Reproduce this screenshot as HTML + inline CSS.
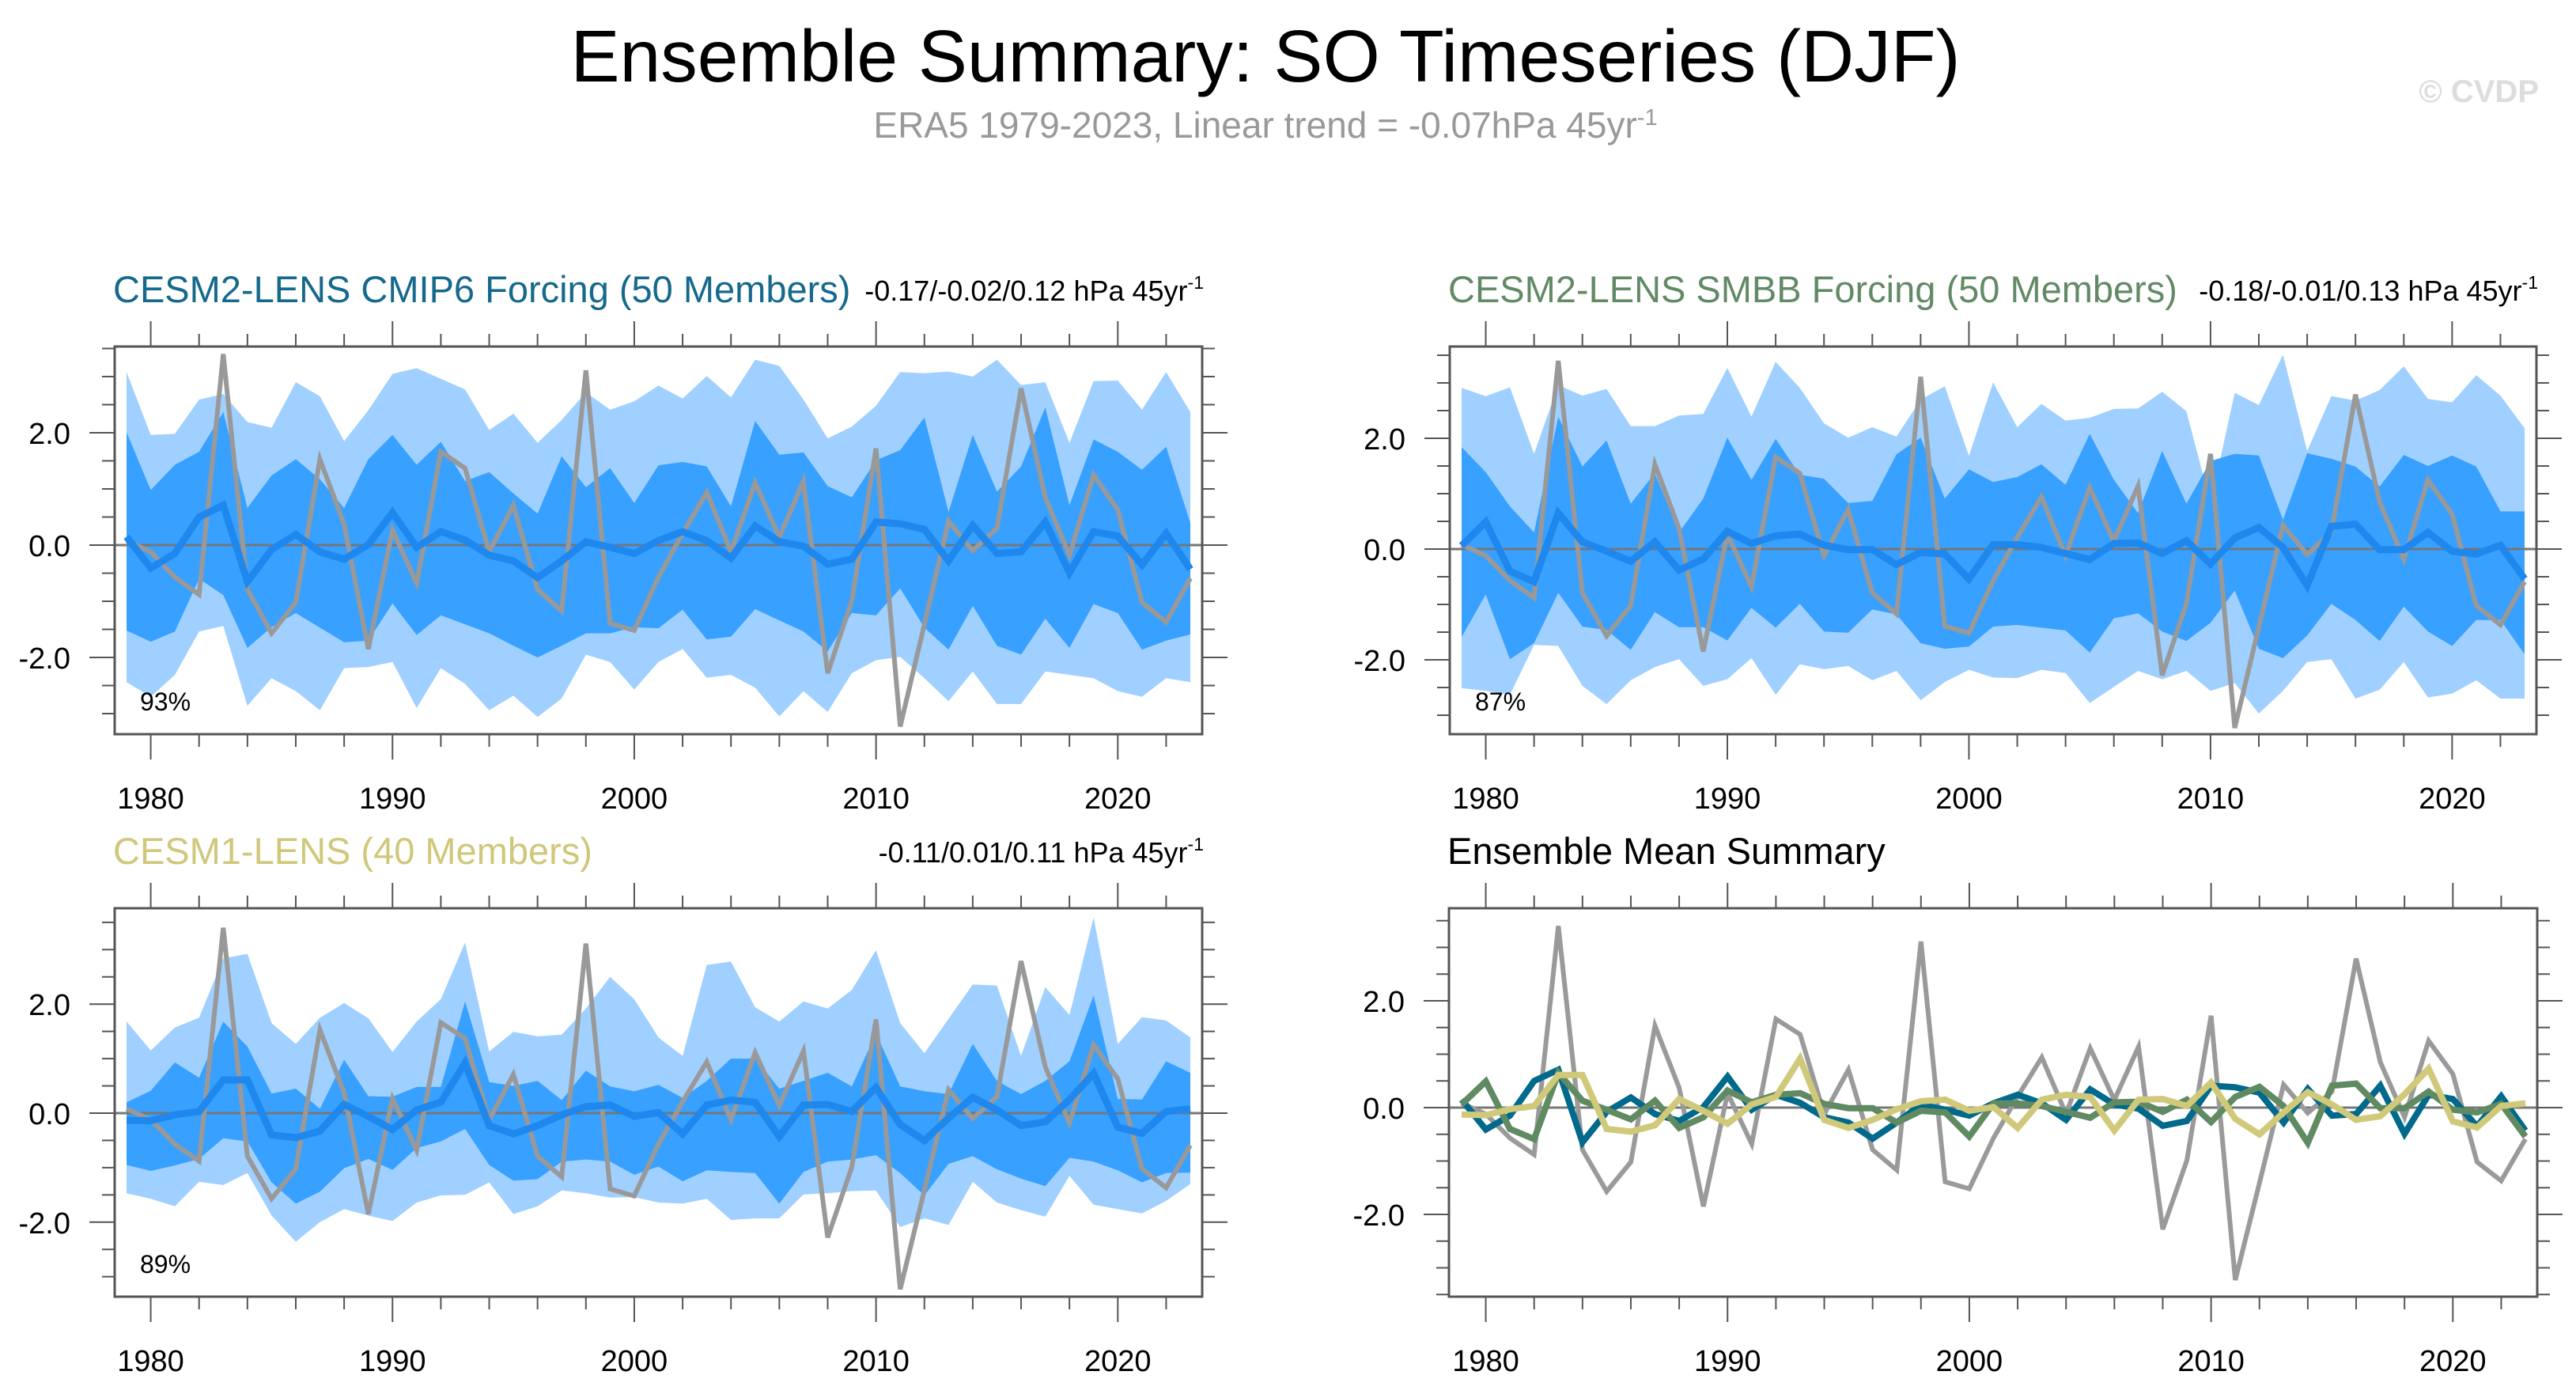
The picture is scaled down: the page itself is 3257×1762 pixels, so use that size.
<!DOCTYPE html>
<html><head><meta charset="utf-8"><style>
html,body{margin:0;padding:0;background:#fff;}
svg{display:block;font-family:"Liberation Sans",sans-serif;}
</style></head><body>
<svg id="chart" width="3257" height="1762" viewBox="0 0 3257 1762" xmlns="http://www.w3.org/2000/svg">
<text x="1600" y="103" font-size="93" text-anchor="middle" fill="#000">Ensemble Summary: SO Timeseries (DJF)</text>
<text x="1600" y="174" font-size="46" text-anchor="middle" fill="#999">ERA5 1979-2023, Linear trend = -0.07hPa 45yr<tspan dy="-16" font-size="29">-1</tspan></text>
<text x="3210" y="129" font-size="40" font-weight="bold" text-anchor="end" fill="#ddd">© CVDP</text>
<g id="plots"></g>
</svg>
<script>
const years = [];
for (let y = 1979; y <= 2023; y++) years.push(y);
const xTickLabels = [1980, 1990, 2000, 2010, 2020];
const yTickLabels = [-2, 0, 2];
const era5 = [0.08,-0.12,-0.57,-0.88,3.4,-0.79,-1.57,-1.02,1.53,0.37,-1.85,0.27,-0.68,1.66,1.37,-0.12,0.71,-0.79,-1.17,3.11,-1.39,-1.52,-0.57,0.21,0.94,-0.12,1.11,0.14,1.14,-2.28,-0.99,1.72,-3.23,-1.41,0.43,-0.10,0.30,2.79,0.85,-0.18,1.25,0.63,-1.02,-1.37,-0.59];
const cmip6Mean = [0.15,-0.41,-0.15,0.5,0.71,-0.65,-0.08,0.19,-0.12,-0.25,0.01,0.58,-0.04,0.24,0.09,-0.18,-0.28,-0.58,-0.28,0.06,-0.04,-0.15,0.08,0.24,0.08,-0.23,0.34,0.06,-0.02,-0.34,-0.25,0.41,0.38,0.28,-0.28,0.35,-0.15,-0.12,0.41,-0.49,0.24,0.16,-0.35,0.21,-0.43];
const cmip6OuterHi = [3.08,1.96,1.98,2.59,2.69,2.19,2.09,2.9,2.65,1.85,2.4,3.05,3.15,2.96,2.77,2.05,2.34,1.82,2.23,2.72,2.41,2.56,2.84,2.61,3.01,2.63,3.3,3.19,2.59,1.9,2.11,2.48,3.08,3.06,3.09,3.0,3.3,2.85,2.9,1.82,2.92,2.93,2.41,3.08,2.37];
const cmip6InnerHi = [2.01,0.98,1.43,1.66,2.37,0.66,1.24,1.53,1.17,0.66,1.53,1.96,1.43,1.84,1.14,1.3,0.92,0.56,1.58,1.03,1.37,0.75,1.42,1.48,1.4,0.69,2.21,1.61,1.65,1.05,0.85,1.51,1.69,2.27,0.59,1.96,0.95,1.4,2.45,0.71,1.88,1.66,1.34,1.75,0.39];
const cmip6InnerLo = [-1.52,-1.72,-1.54,-0.6,-0.89,-1.83,-1.46,-1.21,-1.47,-1.73,-1.7,-1.04,-1.6,-1.25,-1.41,-1.57,-1.79,-2.0,-1.79,-1.57,-1.57,-1.46,-1.48,-1.15,-1.68,-1.63,-1.14,-1.34,-1.54,-1.89,-1.21,-1.25,-0.77,-1.47,-1.86,-1.08,-1.79,-1.95,-1.31,-1.83,-1.05,-1.21,-1.86,-1.7,-1.59];
const cmip6OuterLo = [-2.44,-2.7,-2.31,-1.54,-1.44,-2.86,-2.37,-2.6,-2.94,-2.19,-2.17,-2.08,-2.9,-2.19,-2.47,-2.94,-2.68,-3.06,-2.73,-1.95,-2.08,-2.57,-2.08,-1.85,-2.36,-2.31,-2.54,-3.05,-2.6,-2.97,-2.28,-2.05,-1.99,-2.37,-2.78,-2.25,-2.83,-2.83,-2.25,-2.31,-2.37,-2.6,-2.7,-2.37,-2.44];
const smbbMean = [0.06,0.49,-0.40,-0.59,0.65,0.13,-0.04,-0.22,0.13,-0.38,-0.18,0.32,0.10,0.24,0.27,0.07,-0.01,-0.01,-0.28,-0.06,-0.09,-0.54,0.08,0.08,0.03,-0.08,-0.19,0.10,0.11,-0.08,0.15,-0.27,0.2,0.39,0.03,-0.66,0.41,0.45,-0.01,-0.01,0.30,-0.04,-0.09,0.07,-0.54];
const smbbOuterHi = [2.91,2.76,2.92,1.72,2.96,2.77,2.89,2.22,2.22,2.41,2.44,3.27,2.39,3.38,2.91,2.27,2.01,2.2,2.03,2.7,2.94,1.68,3.01,2.2,2.62,2.32,2.37,2.53,2.54,2.84,2.49,0.82,2.82,2.6,3.51,1.77,2.76,2.68,2.87,3.3,2.71,2.65,3.14,2.77,2.18];
const smbbInnerHi = [1.84,1.39,0.77,0.30,2.39,1.49,1.96,0.82,1.37,0.30,0.91,2.01,1.25,1.99,1.34,1.27,0.83,0.87,1.71,2.01,0.91,1.44,1.21,1.3,1.53,1.16,2.08,1.25,0.65,1.77,0.82,1.59,1.72,1.69,0.53,1.73,1.63,1.49,1.13,1.7,1.5,1.69,1.49,0.68,0.68];
const smbbInnerLo = [-1.59,-0.82,-1.99,-1.70,-0.79,-1.40,-1.46,-1.82,-1.14,-1.41,-1.41,-1.65,-1.06,-1.42,-0.99,-1.49,-1.51,-1.09,-1.18,-1.70,-1.80,-1.76,-1.40,-1.37,-1.42,-1.47,-1.87,-1.25,-1.16,-1.49,-1.66,-1.33,-0.75,-1.80,-1.97,-1.56,-0.99,-1.28,-1.66,-1.04,-1.49,-1.75,-1.28,-1.28,-1.90];
const smbbOuterLo = [-2.51,-2.56,-2.63,-1.73,-1.75,-2.47,-2.80,-2.37,-2.13,-1.99,-2.47,-2.35,-1.97,-2.63,-2.08,-2.17,-2.11,-2.37,-2.20,-2.73,-2.40,-2.18,-2.32,-2.33,-2.18,-2.24,-2.78,-2.49,-2.20,-2.35,-2.20,-2.56,-2.42,-2.97,-2.56,-2.04,-1.99,-2.70,-2.54,-2.04,-2.68,-2.61,-2.37,-2.70,-2.70];
const cesm1Mean = [-0.13,-0.14,-0.03,0.03,0.61,0.61,-0.40,-0.45,-0.33,0.16,-0.06,-0.30,0.06,0.2,0.92,-0.23,-0.38,-0.23,-0.03,0.12,0.15,-0.06,0.01,-0.38,0.15,0.24,0.20,-0.43,0.15,0.16,0.03,0.47,-0.21,-0.50,-0.09,0.29,0.06,-0.23,-0.16,0.25,0.73,-0.26,-0.37,0.03,0.08];
const cesm1OuterHi = [1.68,1.15,1.57,1.75,2.84,2.92,1.65,1.27,1.75,2.02,1.74,1.12,1.68,2.09,3.13,1.13,1.49,1.41,1.44,1.92,2.50,2.09,1.39,1.05,2.72,2.78,1.94,1.68,2.05,1.92,2.26,2.99,1.65,1.10,1.73,2.36,2.34,1.05,2.31,1.80,3.59,1.27,1.76,1.70,1.39];
const cesm1InnerHi = [0.20,0.41,0.93,0.65,1.68,1.22,0.36,0.45,0.08,0.98,0.31,0.30,0.48,0.48,2.05,0.57,0.50,0.59,0.24,0.78,0.49,0.40,0.52,0.28,0.59,1.00,1.00,0.45,0.59,0.74,0.49,1.46,0.49,0.40,0.35,1.27,0.59,0.35,0.59,0.95,2.16,0.26,0.25,0.95,0.74];
const cesm1InnerLo = [-0.95,-1.06,-0.96,-0.84,-0.46,-0.52,-1.27,-1.66,-1.44,-1.01,-0.84,-1.04,-0.64,-0.52,-0.29,-0.95,-1.24,-1.21,-0.89,-0.85,-0.89,-1.13,-0.98,-1.25,-1.05,-1.08,-1.10,-1.66,-1.08,-0.89,-0.85,-0.77,-1.10,-1.51,-0.93,-0.79,-1.03,-1.20,-1.34,-0.82,-0.89,-1.05,-1.27,-1.10,-1.09];
const cesm1OuterLo = [-1.47,-1.57,-1.71,-1.26,-1.32,-1.10,-1.88,-2.36,-2.00,-1.76,-1.88,-1.98,-1.64,-1.51,-1.50,-1.27,-1.85,-1.71,-1.42,-1.47,-1.55,-1.54,-1.64,-1.66,-1.57,-1.96,-1.93,-1.93,-1.49,-1.47,-1.43,-1.42,-2.09,-1.93,-2.05,-1.26,-1.64,-1.78,-1.90,-1.15,-1.68,-1.76,-1.84,-1.61,-1.30];

const NS = "http://www.w3.org/2000/svg";
const root = document.getElementById('plots');
function mk(tag, attrs, parent) {
  const e = document.createElementNS(NS, tag);
  for (const k in attrs) e.setAttribute(k, attrs[k]);
  (parent || root).appendChild(e);
  return e;
}

function makePanel(cfg) {
  const g = mk('g', {});
  
  
  const sx = v => cfg.x0 + (v - 1979) * (cfg.x1 - cfg.x0) / 44;
  const sy = v => cfg.y0 - v * cfg.ppu;
  const L = cfg.L, R = cfg.R, T = cfg.T, B = cfg.B;
  const clipId = 'clip-' + cfg.name;
  const cp = mk('clipPath', {id: clipId}, g);
  mk('rect', {x: L, y: T, width: R - L, height: B - T}, cp);
  const area = mk('g', {'clip-path': 'url(#' + clipId + ')'}, g);
  function band(hi, lo, color, nm) {
    let d = 'M';
    years.forEach((yr, i) => { d += sx(yr).toFixed(1) + ',' + sy(hi[i]).toFixed(1) + ' L'; });
    for (let i = years.length - 1; i >= 0; i--) d += sx(years[i]).toFixed(1) + ',' + sy(lo[i]).toFixed(1) + (i ? ' L' : ' Z');
    const p = mk('path', {d: d, fill: color}, area);
    
    
  }
  function line(vals, color, w, nm) {
    const pts = years.map((yr, i) => sx(yr).toFixed(1) + ',' + sy(vals[i]).toFixed(1)).join(' ');
    const p = mk('polyline', {points: pts, fill: 'none', stroke: color, 'stroke-width': w, 'stroke-linejoin': 'miter'}, area);
    
    
  }
  if (cfg.bands) {
    band(cfg.bands[0], cfg.bands[3], '#a0d0ff', 'outer-spread-band');
    band(cfg.bands[1], cfg.bands[2], '#38a0ff', 'inner-spread-band');
  }
  const zl = mk('line', {x1: L, x2: R, y1: sy(0), y2: sy(0), stroke: '#777', 'stroke-width': 3}, area);
  
  
  if (cfg.bands) {
    line(era5, '#999999', 6, 'era5-line');
    line(cfg.mean, '#1e88ee', 9, 'ensemble-mean-line');
  } else {
    line(era5, '#9a9a9a', 6, 'era5-line');
    line(cmip6Mean, '#00698c', 8, 'cmip6-mean-line');
    line(smbbMean, '#608a62', 8, 'smbb-mean-line');
    line(cesm1Mean, '#d0c97a', 8, 'cesm1-mean-line');
  }
  mk('rect', {x: L, y: T, width: R - L, height: B - T, fill: 'none', stroke: '#555', 'stroke-width': 3}, g);
  for (let yr = 1978; yr <= 2024; yr += 2) {
    const x = sx(yr);
    if (x < L || x > R) continue;
    const major = yr % 10 === 0;
    const len = major ? 32 : 16;
    mk('line', {x1: x, x2: x, y1: T, y2: T - len, stroke: '#555', 'stroke-width': 2}, g);
    mk('line', {x1: x, x2: x, y1: B, y2: B + len, stroke: '#555', 'stroke-width': 2}, g);
  }
  xTickLabels.forEach(v => {
    const t = mk('text', {x: sx(v), y: B + 94, 'font-size': 38, 'text-anchor': 'middle', fill: '#000'}, g);
    
    
    t.textContent = v;
  });
  for (let v = -4; v <= 4.01; v += 0.5) {
    const y = sy(v);
    if (y < T || y > B) continue;
    const major = Math.abs(v % 2) < 0.01;
    const len = major ? 32 : 16;
    mk('line', {x1: L, x2: L - len, y1: y, y2: y, stroke: '#555', 'stroke-width': 2}, g);
    mk('line', {x1: R, x2: R + len, y1: y, y2: y, stroke: '#555', 'stroke-width': 2}, g);
  }
  yTickLabels.forEach(v => {
    const t = mk('text', {x: L - 56, y: sy(v) + 14, 'font-size': 38, 'text-anchor': 'end', fill: '#000'}, g);
    
    
    t.textContent = v.toFixed(1);
  });
  const tt = mk('text', {x: L - 2, y: T - 56, 'font-size': 47, fill: cfg.titleColor}, g);
  
  
  tt.textContent = cfg.title;
  if (cfg.trend) {
    const tr = mk('text', {x: R + 2, y: T - 58, 'font-size': 36, 'text-anchor': 'end', fill: '#000'}, g);
    
    
    tr.textContent = cfg.trend;
    const sup = mk('tspan', {dy: -15, 'font-size': 23}, tr);
    sup.textContent = '-1';
  }
  if (cfg.pct) {
    const pc = mk('text', {x: L + 32, y: B - 30, 'font-size': 32, fill: '#000'}, g);
    
    
    pc.textContent = cfg.pct;
  }
}

makePanel({name: 'cmip6-panel', L: 145, R: 1520, T: 438, B: 928, x0: 160, x1: 1505, y0: 689, ppu: 71,
  bands: [cmip6OuterHi, cmip6InnerHi, cmip6InnerLo, cmip6OuterLo], mean: cmip6Mean,
  title: 'CESM2-LENS CMIP6 Forcing (50 Members)', titleColor: '#15698c', trend: '-0.17/-0.02/0.12 hPa 45yr', pct: '93%'});
makePanel({name: 'smbb-panel', L: 1833, R: 3207, T: 438, B: 928, x0: 1848, x1: 3192, y0: 694, ppu: 70,
  bands: [smbbOuterHi, smbbInnerHi, smbbInnerLo, smbbOuterLo], mean: smbbMean,
  title: 'CESM2-LENS SMBB Forcing (50 Members)', titleColor: '#628a66', trend: '-0.18/-0.01/0.13 hPa 45yr', pct: '87%'});
makePanel({name: 'cesm1-panel', L: 145, R: 1520, T: 1148, B: 1639, x0: 160, x1: 1505, y0: 1407, ppu: 68.9,
  bands: [cesm1OuterHi, cesm1InnerHi, cesm1InnerLo, cesm1OuterLo], mean: cesm1Mean,
  title: 'CESM1-LENS (40 Members)', titleColor: '#cfc87a', trend: '-0.11/0.01/0.11 hPa 45yr', pct: '89%'});
makePanel({name: 'ensemble-mean-summary-panel', L: 1832, R: 3208, T: 1148, B: 1639, x0: 1848, x1: 3193, y0: 1400, ppu: 67.5,
  bands: null, title: 'Ensemble Mean Summary', titleColor: '#000'});
</script>
</body></html>
